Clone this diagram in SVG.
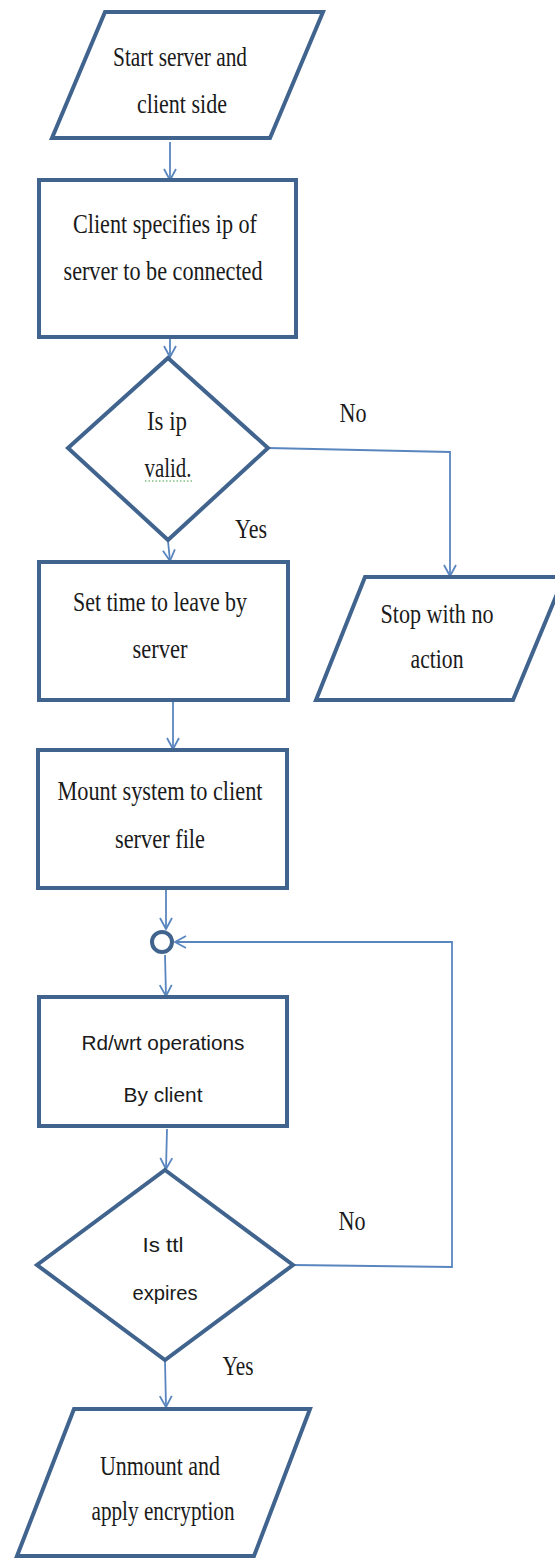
<svg xmlns="http://www.w3.org/2000/svg" width="555" height="1559" viewBox="0 0 555 1559">
  <style>
    .shape { fill: #ffffff; stroke: #41648f; stroke-width: 4; stroke-linejoin: miter; }
    .link { fill: none; stroke: #5a86bf; stroke-width: 1.8; }
    .serif { font-family: "Liberation Serif", "Times New Roman", serif; font-size: 27px; fill: #1a1a1a; text-anchor: middle; }
    .sans { font-family: "Liberation Sans", Arial, sans-serif; font-size: 21px; fill: #1a1a1a; text-anchor: middle; }
  </style>
  <defs>
    <marker id="arrow" markerUnits="userSpaceOnUse" markerWidth="16" markerHeight="16" viewBox="0 0 16 16" refX="13" refY="8" orient="auto">
      <path d="M2,2 L13,8 L2,14" fill="none" stroke="#5a86bf" stroke-width="1.8"/>
    </marker>
  </defs>

  <!-- connectors -->
  <g id="connectors">
    <path class="link" d="M170,142 L170,180" marker-end="url(#arrow)"/>
    <path class="link" d="M170,339 L170,357" marker-end="url(#arrow)"/>
    <path class="link" d="M268,448 L450,452 L450,576" marker-end="url(#arrow)"/>
    <path class="link" d="M168,541 L170,561" marker-end="url(#arrow)"/>
    <path class="link" d="M173,702 L173,749" marker-end="url(#arrow)"/>
    <path class="link" d="M166,890 L166,929" marker-end="url(#arrow)"/>
    <path class="link" d="M165,955 L166,996" marker-end="url(#arrow)"/>
    <path class="link" d="M167,1129 L166,1169" marker-end="url(#arrow)"/>
    <path class="link" d="M293,1265 L452,1267 L452,942 L175,942" marker-end="url(#arrow)"/>
    <path class="link" d="M165,1361 L166,1407" marker-end="url(#arrow)"/>
  </g>

  <!-- start -->
  <g id="start">
    <polygon class="shape" points="105,12 323,12 270,138 52,138"/>
    <text class="serif" x="180" y="66" textLength="134" lengthAdjust="spacingAndGlyphs">Start server and</text>
    <text class="serif" x="182" y="113" textLength="90" lengthAdjust="spacingAndGlyphs">client side</text>
  </g>

  <!-- client specifies ip -->
  <g id="specify-ip">
    <rect class="shape" x="39" y="180" width="257" height="157"/>
    <text class="serif" x="165" y="233" textLength="184" lengthAdjust="spacingAndGlyphs">Client specifies ip of</text>
    <text class="serif" x="163" y="280" textLength="199" lengthAdjust="spacingAndGlyphs">server to be connected</text>
  </g>

  <!-- ip validity check -->
  <g id="ip-valid">
    <polygon class="shape" points="168,358 268,448 168,540 68,448"/>
    <text class="serif" x="167" y="430" textLength="40" lengthAdjust="spacingAndGlyphs">Is ip</text>
    <text class="serif" x="168" y="477" textLength="47" lengthAdjust="spacingAndGlyphs">valid.</text>
    <line x1="145" y1="481" x2="192" y2="481" stroke="#3f9f3f" stroke-width="1.2" stroke-dasharray="1.5,2"/>
    <text class="serif" x="353" y="422" textLength="27" lengthAdjust="spacingAndGlyphs">No</text>
    <text class="serif" x="251" y="538" textLength="32" lengthAdjust="spacingAndGlyphs">Yes</text>
  </g>

  <!-- set ttl -->
  <g id="set-ttl">
    <rect class="shape" x="39" y="562" width="249" height="138"/>
    <text class="serif" x="160" y="611" textLength="174" lengthAdjust="spacingAndGlyphs">Set time to leave by</text>
    <text class="serif" x="160" y="658" textLength="55" lengthAdjust="spacingAndGlyphs">server</text>
  </g>

  <!-- stop -->
  <g id="stop">
    <polygon class="shape" points="365,577 564,577 513,700 316,700"/>
    <text class="serif" x="437" y="623" textLength="113" lengthAdjust="spacingAndGlyphs">Stop with no</text>
    <text class="serif" x="437" y="668" textLength="53" lengthAdjust="spacingAndGlyphs">action</text>
  </g>

  <!-- mount -->
  <g id="mount">
    <rect class="shape" x="38" y="750" width="249" height="138"/>
    <text class="serif" x="160" y="800" textLength="205" lengthAdjust="spacingAndGlyphs">Mount system to client</text>
    <text class="serif" x="160" y="848" textLength="90" lengthAdjust="spacingAndGlyphs">server file</text>
  </g>

  <!-- loop junction -->
  <g id="junction">
    <circle cx="162" cy="942" r="10" fill="#ffffff" stroke="#41648f" stroke-width="4"/>
  </g>

  <!-- read/write -->
  <g id="read-write">
    <rect class="shape" x="39" y="997" width="248" height="129"/>
    <text class="sans" x="163" y="1050" textLength="163" lengthAdjust="spacingAndGlyphs">Rd/wrt operations</text>
    <text class="sans" x="163" y="1102" textLength="79" lengthAdjust="spacingAndGlyphs">By client</text>
  </g>

  <!-- ttl expiry check -->
  <g id="ttl-expired">
    <polygon class="shape" points="165,1170 293,1265 165,1360 37,1265"/>
    <text class="sans" x="163" y="1252" textLength="41" lengthAdjust="spacingAndGlyphs">Is ttl</text>
    <text class="sans" x="165" y="1300" textLength="65" lengthAdjust="spacingAndGlyphs">expires</text>
    <text class="serif" x="352" y="1230" textLength="27" lengthAdjust="spacingAndGlyphs">No</text>
    <text class="serif" x="238" y="1375" textLength="31" lengthAdjust="spacingAndGlyphs">Yes</text>
  </g>

  <!-- unmount -->
  <g id="unmount">
    <polygon class="shape" points="74,1409 310,1409 254,1556 17,1556"/>
    <text class="serif" x="160" y="1475" textLength="120" lengthAdjust="spacingAndGlyphs">Unmount and</text>
    <text class="serif" x="163" y="1520" textLength="143" lengthAdjust="spacingAndGlyphs">apply encryption</text>
  </g>
</svg>
